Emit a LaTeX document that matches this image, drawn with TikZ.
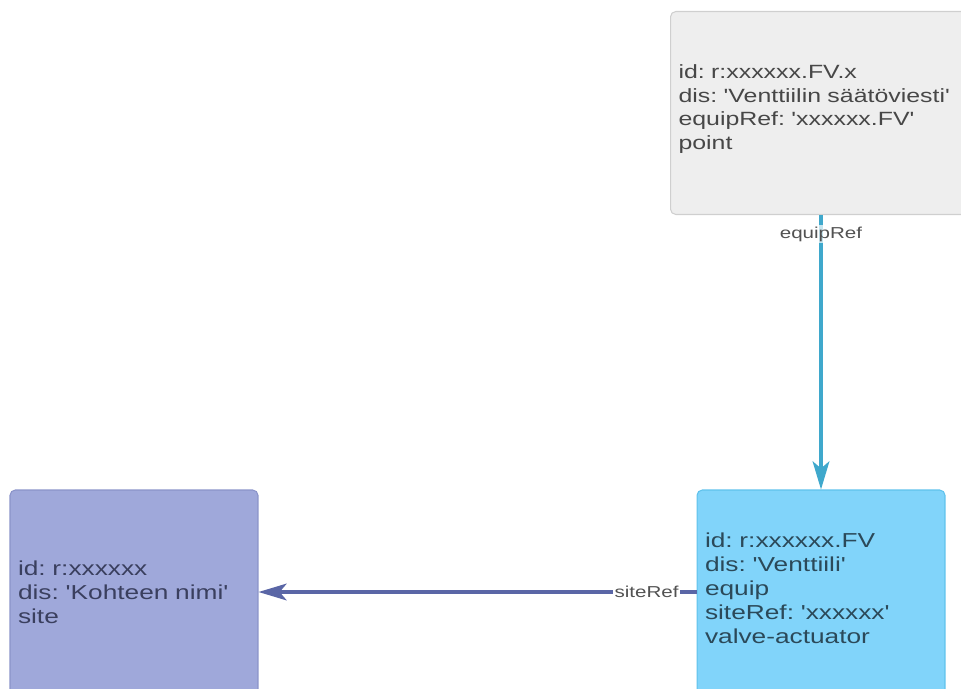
\documentclass[tikz,border=0pt]{standalone}
\usepackage{fontspec}
\setmainfont{Liberation Sans}[Ligatures=TeXOff,FakeStretch=1.3]
\usetikzlibrary{arrows.meta,positioning}
\definecolor{ptfill}{HTML}{EEEEEE}
\definecolor{ptline}{HTML}{CFCFCF}
\definecolor{pttext}{HTML}{474747}
\definecolor{eqfill}{HTML}{81D4FA}
\definecolor{eqline}{HTML}{5FC2EC}
\definecolor{eqtext}{HTML}{2B4959}
\definecolor{sitefill}{HTML}{9FA8DA}
\definecolor{siteline}{HTML}{8A93C9}
\definecolor{sitetext}{HTML}{3A3F5E}
\definecolor{eqref}{HTML}{3FA8CC}
\definecolor{siteref}{HTML}{5A66A6}
\frenchspacing
\tikzset{
  rec/.style={draw,rounded corners=3pt,line width=0.6pt,align=left,inner xsep=0.16cm,
    text width=4.64cm,minimum height=4.08cm,font=\fontsize{11.5}{13.6}\selectfont},
  reflabel/.style={font=\fontsize{9}{10}\selectfont,text=black!68,fill=white,fill opacity=0.7,
    text opacity=1,inner sep=1pt},
  refline/.style={line width=2pt,-{Stealth[length=16pt,width=9.5pt,inset=4pt]}}
}
\begin{document}
\begin{tikzpicture}[x=0.02cm,y=-0.02cm]
\useasboundingbox (0,0) rectangle (961,689);
\clip (0,0) rectangle (961,689);
\node[rec,draw=ptline,fill=ptfill,text=pttext,text width=7cm,minimum height=4.06cm,anchor=west,
  font=\fontsize{10.9}{13.6}\selectfont] (pt) at (670,113) {id: r:xxxxxx.FV.x\\dis: 'Venttiilin säätöviesti'\\equipRef: 'xxxxxx.FV'\\point\par\vspace{0.16cm}};
\node[rec,draw=eqline,fill=eqfill,text=eqtext] (eq) at (821,592) {id: r:xxxxxx.FV\\dis: 'Venttiili'\\equip\\siteRef: 'xxxxxx'\\valve-actuator\par\vspace{0.16cm}};
\node[rec,draw=siteline,fill=sitefill,text=sitetext] (site) at (134,592) {id: r:xxxxxx\\dis: 'Kohteen nimi'\\site};
\draw[refline,eqref] (eq.north |- pt.south) -- node[reflabel,pos=0.07] {equipRef} (eq.north);
\draw[refline,siteref] (eq.west) -- node[reflabel,pos=0.114,fill opacity=1] {siteRef} (site.east);
\end{tikzpicture}
\end{document}
